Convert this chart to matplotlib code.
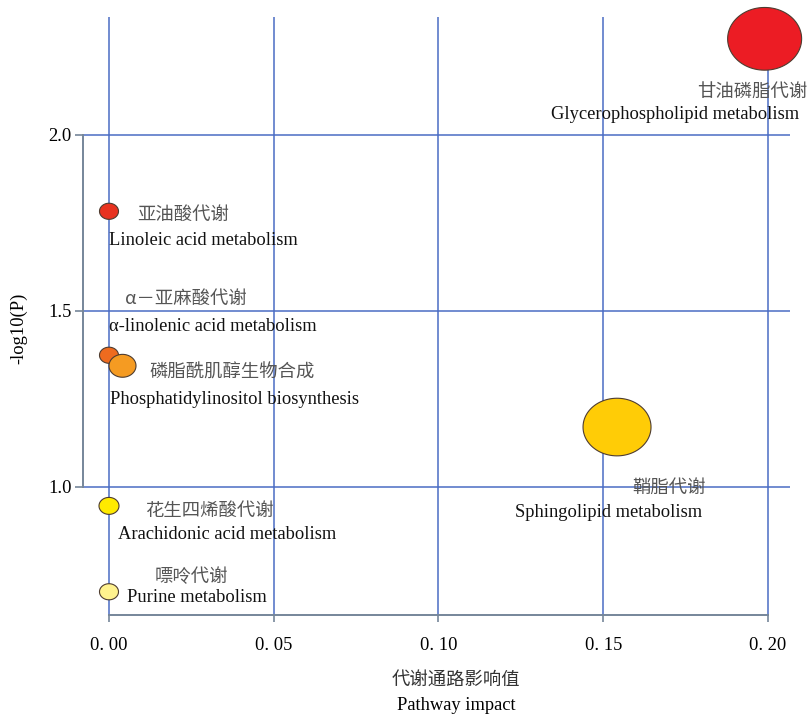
import matplotlib
matplotlib.use("Agg")
import matplotlib.pyplot as plt
import numpy as np
from matplotlib.path import Path

# Pathway enrichment results
pathways_cn = ["甘油磷脂代谢", "亚油酸代谢", "α－亚麻酸代谢", "磷脂酰肌醇生物合成",
               "鞘脂代谢", "花生四烯酸代谢", "嘌呤代谢"]
pathways_en = ["Glycerophospholipid metabolism", "Linoleic acid metabolism",
               "α-linolenic acid metabolism", "Phosphatidylinositol biosynthesis",
               "Sphingolipid metabolism", "Arachidonic acid metabolism",
               "Purine metabolism"]
impact = [0.199, 0.0, 0.0, 0.0041, 0.1542, 0.0, 0.0]
neg_log_p = [2.273, 1.783, 1.374, 1.344, 1.170, 0.946, 0.702]

x_ticks = [0.00, 0.05, 0.10, 0.15, 0.20]
x_tick_labels = ["0. 00", "0. 05", "0. 10", "0. 15", "0. 20"]
y_ticks = [1.0, 1.5, 2.0]
y_tick_labels = ["1.0", "1.5", "2.0"]

# bubble styling
bubble_colors = ["#EC1C24", "#E8321F", "#EE6B1F", "#F59B22", "#FFCC06", "#FFEA00", "#FFF28E"]
bubble_width_px = [74, 19, 19, 27, 68, 20, 19]

# label placement (offset in pixels from bubble centre)
cn_offsets = [(43, -53), (28, -4), (16, 56), (27, -7), (15, -61), (36, -5), (46, 15)]
cn_ha = ["right", "left", "left", "left", "left", "left", "left"]
en_offsets = [(34, -76), (0, -29), (0, 29), (-13, -34), (-102, -85), (9, -29), (18, -6)]
en_ha = ["right", "left", "left", "left", "left", "left", "left"]

DPI = 100
fig = plt.figure(figsize=(8.11, 7.16), dpi=DPI)
ax = fig.add_axes([83 / 811, 1 - 615 / 716, (790 - 83) / 811, (615 - 17) / 716])
ax.set_xlim(-0.00789, 0.2067)
ax.set_ylim(0.636, 2.335)

grid_color = "#4A6CC4"
spine_color = "#76869A"
serif = "Liberation Serif"
cjk = "Noto Sans CJK SC"
fs = 13.3

# grid lines
for xv in x_ticks:
    ax.axvline(xv, color=grid_color, lw=1.1, zorder=1)
for yv in y_ticks:
    ax.axhline(yv, color=grid_color, lw=1.1, zorder=1)

# axes frame
for s in ["top", "right"]:
    ax.spines[s].set_visible(False)
ax.spines["left"].set_bounds(1.0, 2.0)
ax.spines["bottom"].set_bounds(0.0, 0.2)
for s in ["left", "bottom"]:
    ax.spines[s].set_color(spine_color)
    ax.spines[s].set_linewidth(1.4)
    ax.spines[s].set_zorder(2)

ax.set_xticks(x_ticks)
ax.set_xticklabels(x_tick_labels, fontfamily=serif, fontsize=fs)
ax.set_yticks(y_ticks)
ax.set_yticklabels(y_tick_labels, fontfamily=serif, fontsize=fs)
ax.tick_params(axis="x", length=5, width=1.2, color=spine_color, pad=11)
ax.tick_params(axis="y", length=6, width=1.2, color=spine_color, pad=2)

# elliptical bubble marker (wider than tall)
t = np.linspace(0, 2 * np.pi, 100)
ell = Path(np.column_stack([1.18 * np.cos(t), np.sin(t)]), closed=True)
sizes_pt2 = [(w * 72 / DPI) ** 2 for w in bubble_width_px]
ax.scatter(impact, neg_log_p, s=sizes_pt2, c=bubble_colors, marker=ell,
           edgecolors="#4E3C30", linewidths=0.8, zorder=3, clip_on=False)

for i in range(len(impact)):
    ax.annotate(pathways_cn[i], xy=(impact[i], neg_log_p[i]), xytext=cn_offsets[i],
                textcoords="offset pixels", ha=cn_ha[i], va="center",
                fontfamily=cjk, fontsize=13.2, color="#555555", zorder=4)
    ax.annotate(pathways_en[i], xy=(impact[i], neg_log_p[i]), xytext=en_offsets[i],
                textcoords="offset pixels", ha=en_ha[i], va="center",
                fontfamily=serif, fontsize=fs, color="#111111", zorder=4)

fig.text(19 / 811, 1 - 328 / 716, "-log10(P)", rotation=90, ha="center", va="center",
         fontfamily=serif, fontsize=fs)
fig.text(456 / 811, 1 - 681 / 716, "代谢通路影响值", ha="center", va="center",
         fontfamily=cjk, fontsize=13.2, color="#333333")
fig.text(456 / 811, 1 - 706 / 716, "Pathway impact", ha="center", va="center",
         fontfamily=serif, fontsize=fs)

fig.savefig("out.png", dpi=DPI)
